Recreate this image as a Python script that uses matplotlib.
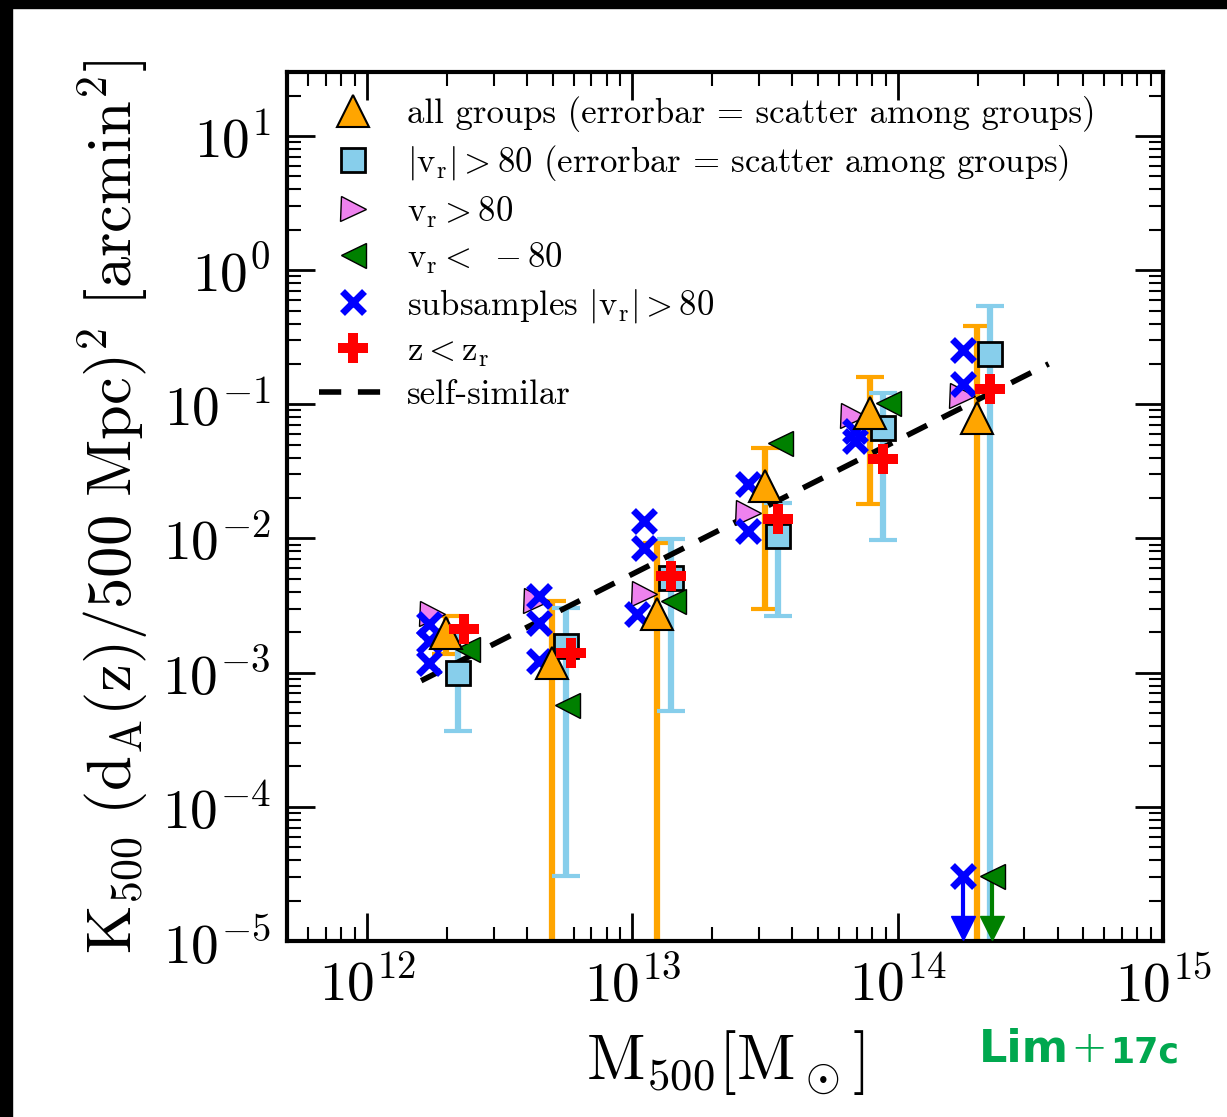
import numpy as np
import matplotlib
matplotlib.use('Agg')
import matplotlib.pyplot as plt
from matplotlib.lines import Line2D
from matplotlib.patches import Rectangle

plt.rcParams['font.family'] = 'serif'
plt.rcParams['font.serif'] = ['cmr10', 'DejaVu Serif']
plt.rcParams['mathtext.fontset'] = 'cm'
plt.rcParams['axes.formatter.use_mathtext'] = True

# all groups (orange triangles), errorbar = scatter among groups
m_all = [1.99e12, 4.99e12, 1.24e13, 3.15e13, 7.84e13, 1.99e14]
k_all = [1.98e-3, 1.17e-3, 2.75e-3, 2.45e-2, 8.57e-2, 7.87e-2]
k_all_hi = [2.65e-3, 3.43e-3, 9.27e-3, 4.71e-2, 0.161, 0.38]
k_all_lo = [1.38e-3, 1e-9, 1e-9, 2.99e-3, 1.81e-2, 1e-9]

# |vr| > 80 (light blue squares)
m_sq = [2.2e12, 5.64e12, 1.40e13, 3.53e13, 8.78e13, 2.22e14]
k_sq = [1.0e-3, 1.59e-3, 5.08e-3, 1.04e-2, 6.64e-2, 0.239]
k_sq_hi = [2.0e-3, 3.04e-3, 9.9e-3, 1.84e-2, 0.121, 0.536]
k_sq_lo = [3.7e-4, 3.04e-5, 5.2e-4, 2.65e-3, 9.75e-3, 1e-9]

# vr > 80
m_pos = [1.76e12, 4.34e12, 1.11e13, 2.72e13, 6.76e13, 1.74e14]
k_pos = [2.75e-3, 3.43e-3, 3.86e-3, 1.55e-2, 8.15e-2, 0.115]

# vr < -80
m_neg = [2.38e12, 5.69e12, 1.42e13, 3.59e13, 9.17e13]
k_neg = [1.51e-3, 5.69e-4, 3.43e-3, 5.13e-2, 0.102]
m_neg_ul = [2.26e14]
k_neg_ul = [3.04e-5]

# subsamples |vr| > 80
m_sub = [1.71e12, 1.71e12, 1.71e12, 4.46e12, 4.46e12, 4.46e12,
         1.11e13, 1.11e13, 1.04e13, 2.72e13, 2.72e13, 6.9e13, 6.9e13,
         1.76e14, 1.76e14]
k_sub = [2.31e-3, 1.73e-3, 1.17e-3, 3.73e-3, 2.36e-3, 1.23e-3,
         1.35e-2, 8.5e-3, 2.75e-3, 2.54e-2, 1.14e-2, 6.3e-2, 5.3e-2,
         0.256, 0.141]
m_sub_ul = [1.76e14]
k_sub_ul = [3.04e-5]

# z < zr
m_z = [2.32e12, 5.89e12, 1.40e13, 3.53e13, 8.78e13, 2.22e14]
k_z = [2.12e-3, 1.41e-3, 5.26e-3, 1.40e-2, 3.90e-2, 0.131]

# self-similar line
m_line = [1.6e12, 3.7e14]
k_line = [8.7e-4, 0.2]

fig = plt.figure(figsize=(12.27, 11.17), dpi=100)
ax = fig.add_axes([0.234, 0.1576, 0.714, 0.778])

err_all = [np.array(k_all) - np.array(k_all_lo), np.array(k_all_hi) - np.array(k_all)]
err_sq = [np.array(k_sq) - np.array(k_sq_lo), np.array(k_sq_hi) - np.array(k_sq)]
ax.errorbar(m_all, k_all, yerr=err_all, fmt='none', ecolor='orange', elinewidth=4.5,
            capsize=10, capthick=3, zorder=2)
ax.errorbar(m_sq, k_sq, yerr=err_sq, fmt='none', ecolor='skyblue', elinewidth=4.5,
            capsize=10, capthick=3, zorder=2)

ax.plot(m_line, k_line, 'k--', lw=4, dashes=(4, 3), zorder=3)

# upper limits
for xs, ys, c in [(m_sub_ul, k_sub_ul, 'b'), (m_neg_ul, k_neg_ul, 'green')]:
    for x, y in zip(xs, ys):
        ax.plot([x, x], [y, 1.3e-5], color=c, lw=3, zorder=4)
        ax.plot(x, 1.25e-5, marker='v', color=c, ms=17, zorder=4)

ax.plot(m_sq, k_sq, 's', color='skyblue', mec='k', mew=2, ms=17, zorder=5)
ax.plot(m_pos, k_pos, '>', color='violet', mec='k', mew=1, ms=18, zorder=5)
ax.plot(m_neg + m_neg_ul, k_neg + k_neg_ul, '<', color='green', mec='k', mew=1, ms=18, zorder=5)
ax.plot(m_sub + m_sub_ul, k_sub + k_sub_ul, 'x', color='b', mew=5, ms=16, zorder=6)
ax.plot(m_all, k_all, '^', color='orange', mec='k', mew=1.5, ms=23, zorder=6)
ax.plot(m_z, k_z, 'P', color='r', mew=0, ms=22, zorder=7)

handles = [
    Line2D([], [], ls='none', marker='^', color='orange', mec='k', mew=1.5, ms=23),
    Line2D([], [], ls='none', marker='s', color='skyblue', mec='k', mew=2, ms=17),
    Line2D([], [], ls='none', marker='>', color='violet', mec='k', mew=1, ms=18),
    Line2D([], [], ls='none', marker='<', color='green', mec='k', mew=1, ms=18),
    Line2D([], [], ls='none', marker='x', color='b', mew=5, ms=16),
    Line2D([], [], ls='none', marker='P', color='r', mew=0, ms=22),
    Line2D([], [], color='k', ls='--', lw=4, dashes=(4, 3)),
]
labels = [
    'all groups (errorbar = scatter among groups)',
    r'$|\mathrm{v_r}| > 80$ (errorbar = scatter among groups)',
    r'$\mathrm{v_r} > 80$',
    r'$\mathrm{v_r} <\ -80$',
    r'subsamples $|\mathrm{v_r}| > 80$',
    r'$\mathrm{z < z_r}$',
    'self-similar',
]
ax.legend(handles, labels, loc='upper left', frameon=False, fontsize=25,
          handlelength=2.0, handletextpad=0.55, labelspacing=0.32,
          borderaxespad=0.0, bbox_to_anchor=(0.02, 0.988))

ax.set_xscale('log')
ax.set_yscale('log')
ax.set_xlim(5e11, 1e15)
ax.set_ylim(1e-5, 30)

ax.tick_params(which='both', direction='in', top=True, right=True, labelsize=40, pad=12)
ax.tick_params(which='major', length=20, width=2)
ax.tick_params(which='minor', length=10, width=1.5)
for s in ax.spines.values():
    s.set_linewidth(3)

ax.set_xlabel(r'$\mathrm{M_{500} [M_\odot]}$', fontsize=46, labelpad=10)
ax.set_ylabel(r'$\mathrm{K_{500}\ (d_A(z)/500\ Mpc)^2\ [arcmin^2]}$', fontsize=45, labelpad=8)

# black frame strips at the top and left edges
fig.patches.append(Rectangle((0, 0.993), 1, 0.007, transform=fig.transFigure, color='k'))
fig.patches.append(Rectangle((0, 0), 0.0098, 1, transform=fig.transFigure, color='k'))

fig.text(0.798, 0.049, 'Lim', color='#00A84F', fontsize=32, fontweight='bold', family='DejaVu Sans')
fig.text(0.872, 0.049, '+', color='#00A84F', fontsize=32, fontweight='light', family='DejaVu Sans')
fig.text(0.905, 0.049, '17c', color='#00A84F', fontsize=25, fontweight='bold', family='DejaVu Sans')

fig.savefig('out.png', dpi=100)
